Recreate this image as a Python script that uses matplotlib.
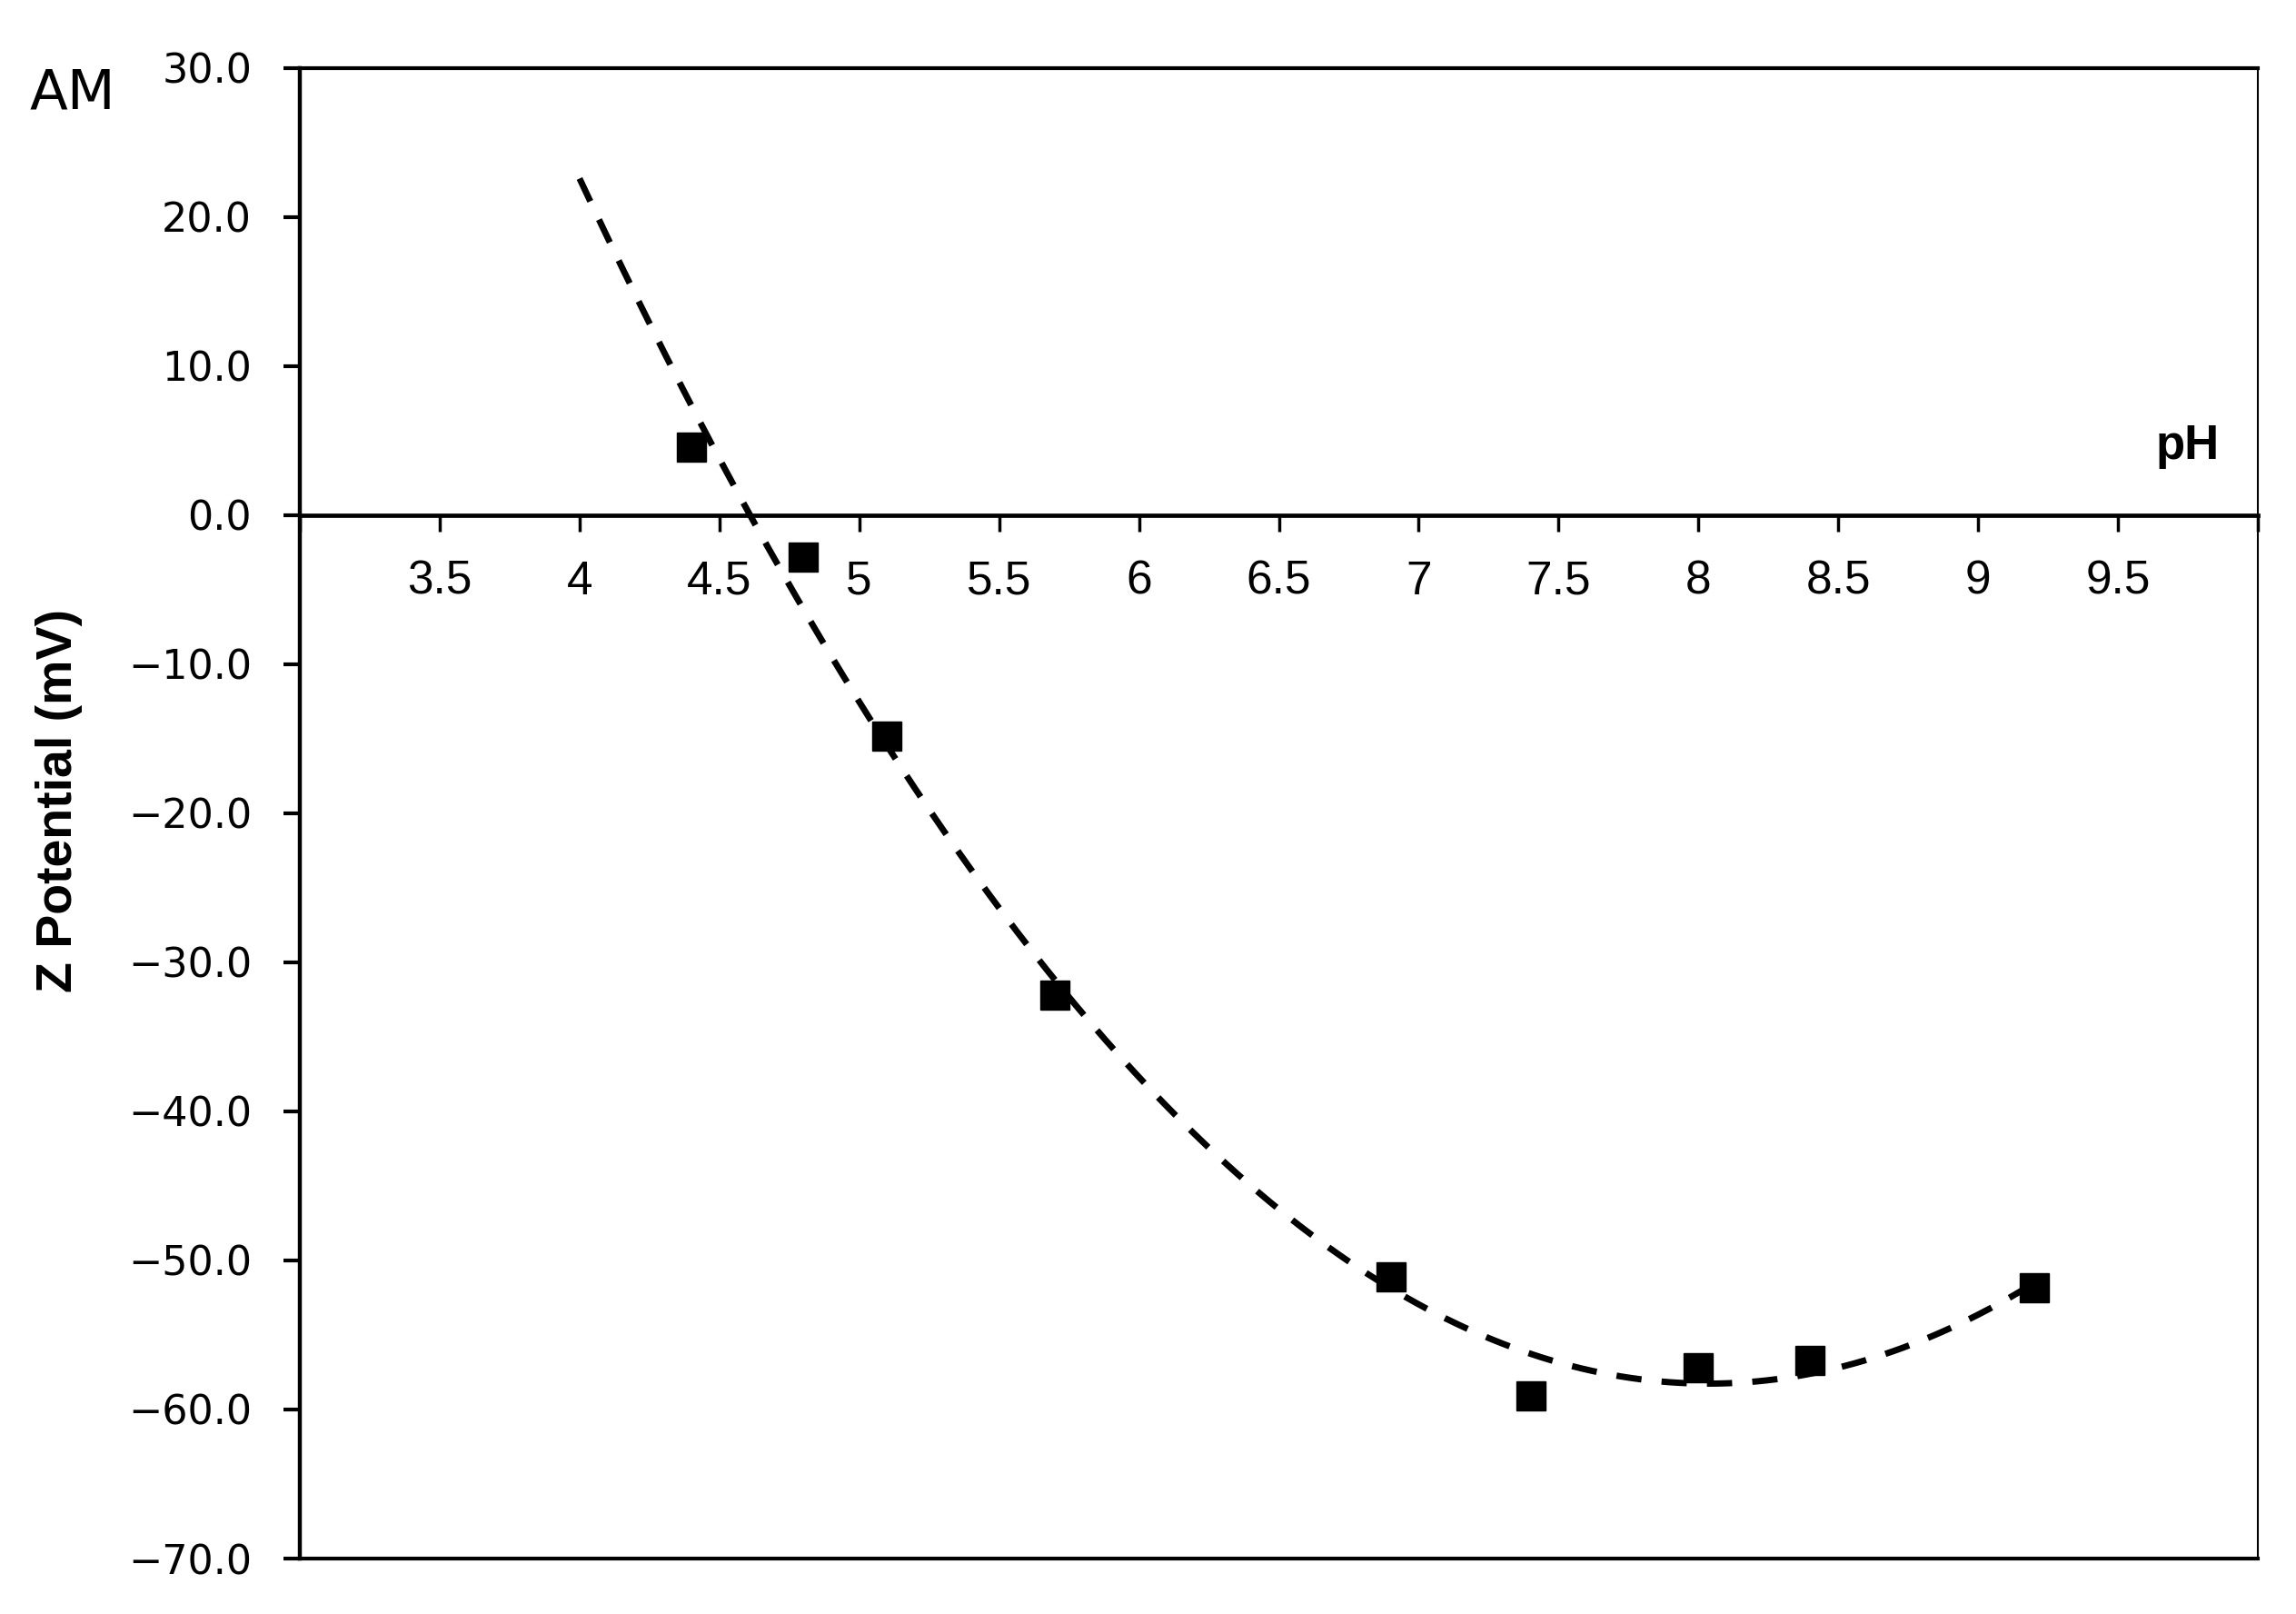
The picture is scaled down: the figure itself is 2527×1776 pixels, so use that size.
import numpy as np
import matplotlib
matplotlib.use('Agg')
import matplotlib.pyplot as plt
from matplotlib.ticker import FuncFormatter

# measured zeta potential of AM vs pH
ph = [4.4, 4.8, 5.1, 5.7, 6.9, 7.4, 8.0, 8.4, 9.2]
zeta = [4.6, -2.8, -14.8, -32.2, -51.1, -59.1, -57.2, -56.7, -51.8]

# polynomial trendline (order 2), drawn from pH 4 (backward forecast) to the last point
trend_order = 2
trend_start = 4.0

x_ticks = [3, 3.5, 4, 4.5, 5, 5.5, 6, 6.5, 7, 7.5, 8, 8.5, 9, 9.5, 10]
x_ticklabels = ['', '3.5', '4', '4.5', '5', '5.5', '6', '6.5', '7', '7.5',
                '8', '8.5', '9', '9.5', '']
y_ticks = [-70, -60, -50, -40, -30, -20, -10, 0, 10, 20, 30]

W, H = 2527, 1776
fig = plt.figure(figsize=(W / 100, H / 100), dpi=100)
ax = fig.add_axes([330 / W, 1 - 1715 / H, 2155 / W, 1640 / H])

coef = np.polyfit(ph, zeta, trend_order)
xs = np.linspace(trend_start, max(ph), 300)
ax.plot(xs, np.polyval(coef, xs), color='black', lw=5, ls=(0, (4, 3.2)),
        dash_capstyle='butt', zorder=3)
ax.plot(ph, zeta, ls='none', marker='s', ms=23, color='black', mec='black', zorder=2)

ax.set_xlim(3, 10)
ax.set_ylim(-70, 30)

# x axis crosses at y = 0
ax.spines['bottom'].set_position(('data', 0))
ax.spines['bottom'].set_linewidth(3.4)
ax.spines['left'].set_linewidth(3.2)
ax.spines['top'].set_linewidth(3.0)
ax.spines['right'].set_linewidth(1.5)
# frame line along the bottom
ax.plot([0, 1], [0, 0], transform=ax.transAxes, color='black', lw=3.0,
        clip_on=False, zorder=4)

ax.set_xticks(x_ticks)
ax.set_xticklabels(x_ticklabels, family='Liberation Sans', fontsize=37)
ax.set_yticks(y_ticks)
ax.yaxis.set_major_formatter(FuncFormatter(lambda v, p: f'{v:.1f}'.replace('-', '\u2212')))
ax.tick_params(axis='x', direction='out', length=13, width=2.5, pad=22)
ax.tick_params(axis='y', direction='out', length=13, width=3.0, pad=25, labelsize=32)

ax.set_ylabel('Z Potential (mV)', fontsize=40, fontweight='bold', family='Liberation Sans')
ax.yaxis.set_label_coords(-0.111, 0.5085)

fig.text(2443 / W, 1 - 505 / H, 'pH', ha='right', va='baseline',
         fontsize=38, fontweight='bold', family='Liberation Sans')
fig.text(33 / W, 1 - 120 / H, 'AM', fontsize=44, ha='left', va='baseline')

fig.savefig('out.png', dpi=100, facecolor='white')
